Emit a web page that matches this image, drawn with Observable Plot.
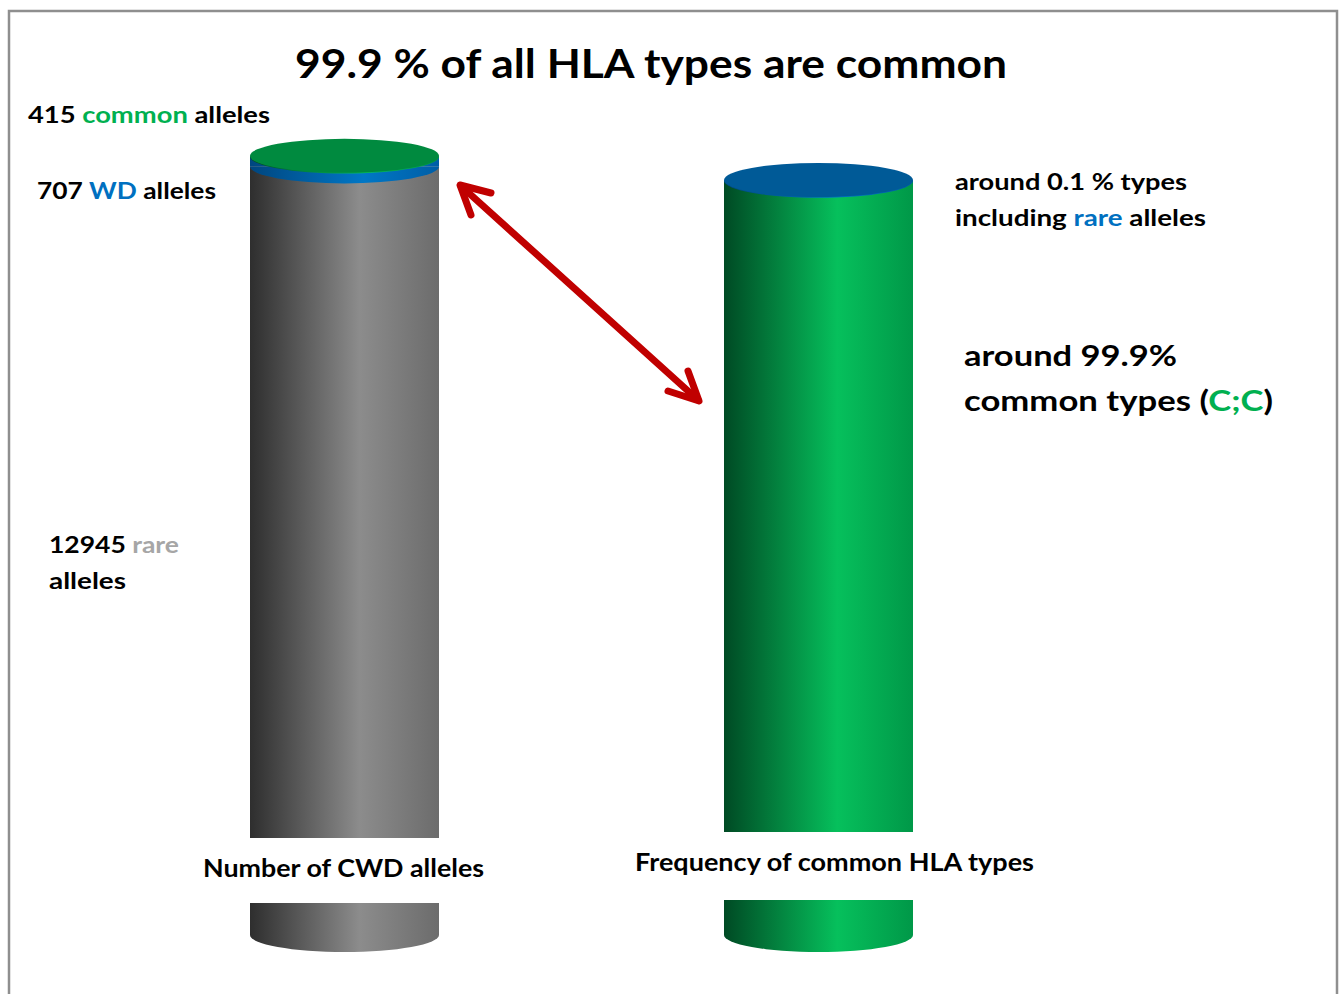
<!DOCTYPE html>
<html>
<head>
<meta charset="utf-8">
<script src="https://cdn.jsdelivr.net/npm/d3@7"></script>
<script src="https://cdn.jsdelivr.net/npm/@observablehq/plot@0.6"></script>
<style>
  html, body { margin: 0; padding: 0; background: #fff; overflow: hidden; }
  #chart svg { display: block; }
</style>
</head>
<body>
<div id="chart"></div>
<script>
// ---------------- data ----------------
const categories = ["Number of CWD alleles", "Frequency of common HLA types"];
// left cylinder (bottom -> top): segment names, drawn heights, allele counts
const leftSegments = ["rare", "WD", "common"];
const leftHeights = [101.8, 1.3, 0.1];
const leftCounts = [12945, 707, 415];
// right cylinder (bottom -> top): frequency in %
const rightSegments = ["common", "rare"];
const rightHeights = [99.9, 0.1];
const titleText = "99.9 % of all HLA types are common";

// ---------------- styles ----------------
const toneOf = {left: {rare: "gray", WD: "blue", common: "green"}, right: {common: "green", rare: "blue"}};
const topColor = {green: "#008a3f", blue: "#005a97", gray: "#6f6f6f"};
const gradients = {
  gray:  [["0", "#2e2e2e"], ["0.58", "#8c8c8c"], ["1", "#6c6c6c"]],
  green: [["0", "#004a24"], ["0.6", "#06c05c"], ["1", "#009848"]],
  blue:  [["0", "#00467f"], ["0.6", "#0077c6"], ["1", "#005ea6"]]
};
const RY = 17;

// build the stacked table
function stack(cat, segs, heights, side) {
  let acc = 0;
  return segs.map((s, i) => {
    const r = {cat, seg: s, y1: acc, y2: acc + heights[i], tone: toneOf[side][s]};
    acc += heights[i];
    return r;
  });
}
const rows = [
  ...stack(categories[0], leftSegments, leftHeights, "left"),
  ...stack(categories[1], rightSegments, rightHeights, "right")
];

// 3D caps: front curves of each segment and the top face of each cylinder
function cylinderCaps(index, scales) {
  const g = d3.create("svg:g");
  const x = scales.x, y = scales.y;
  const bw = x.bandwidth();
  for (const d of rows) {
    const x0 = x(d.cat), x1 = x0 + bw, yb = y(d.y1);
    g.append("path")
      .attr("d", `M${x0},${yb} A${bw / 2},${RY} 0 0 0 ${x1},${yb} Z`)
      .attr("fill", `url(#g-${d.tone})`);
  }
  for (const cat of categories) {
    const segs = rows.filter(r => r.cat === cat);
    const top = segs[segs.length - 1];
    g.append("ellipse")
      .attr("cx", x(cat) + bw / 2)
      .attr("cy", y(top.y2))
      .attr("rx", bw / 2)
      .attr("ry", RY)
      .attr("fill", topColor[top.tone]);
  }
  return g.node();
}

const bandwidth = 189, step = 474;
const plot = Plot.plot({
  width: 1341,
  height: 994,
  margin: 0,
  style: {background: "#fff", overflow: "visible"},
  x: {domain: categories, range: [13, 13 + step * (2 - (1 - bandwidth / step) + 1)], paddingInner: 1 - bandwidth / step, paddingOuter: 0.5, axis: null},
  y: {domain: [0, 100], range: [935, 180], axis: null},
  color: {type: "identity"},
  marks: [
    Plot.barY(rows, {x: "cat", y1: "y1", y2: "y2", fill: d => `url(#g-${d.tone})`}),
    cylinderCaps
  ]
});
document.getElementById("chart").appendChild(plot);

// ---------------- decorations ----------------
const svg = d3.select(plot);
const defs = svg.insert("defs", ":first-child");
for (const [name, stops] of Object.entries(gradients)) {
  const lg = defs.append("linearGradient").attr("id", `g-${name}`).attr("x1", 0).attr("x2", 1).attr("y1", 0).attr("y2", 0);
  for (const [o, c] of stops) lg.append("stop").attr("offset", o).attr("stop-color", c);
}

const xs = plot.scale("x");
const ys = plot.scale("y");
const bw = xs.bandwidth;
const y0px = ys.apply(0);

const anno = svg.append("g")
  .attr("font-family", "Lato, 'Open Sans', sans-serif")
  .attr("font-weight", 700)
  .attr("fill", "#000")
  .attr("text-anchor", "start");

// white label boxes that cut the cylinders, with category labels
const labelBoxes = [
  {cat: categories[0], top: y0px - 97, bottom: y0px - 32, tx: 203, base: 877, w: 281},
  {cat: categories[1], top: y0px - 103, bottom: y0px - 35, tx: 635, base: 871, w: 399}
];
for (const b of labelBoxes) {
  const xl = xs.apply(b.cat);
  anno.append("rect").attr("x", xl - 4).attr("y", b.top).attr("width", bw + 8).attr("height", b.bottom - b.top).attr("fill", "#fff");
  anno.append("text").attr("x", b.tx).attr("y", b.base).attr("font-size", 24)
    .attr("textLength", b.w).attr("lengthAdjust", "spacingAndGlyphs").text(b.cat);
}

const GREEN = "#00b050", BLUE = "#0070c0", GRAY = "#a6a6a6";
function rich(parts, x, y, size, w) {
  const t = anno.append("text").attr("x", x).attr("y", y).attr("font-size", size)
    .attr("textLength", w).attr("lengthAdjust", "spacingAndGlyphs");
  for (const [s, c] of parts) t.append("tspan").attr("fill", c || "#000").text(s);
  return t;
}
rich([[titleText]], 295, 78, 40, 712);
rich([[`${leftCounts[2]} `], ["common", GREEN], [" alleles"]], 28, 123, 23, 242);
rich([[`${leftCounts[1]} `], ["WD", BLUE], [" alleles"]], 37, 199, 23, 179);
rich([[`${leftCounts[0]} `], ["rare", GRAY]], 49, 553, 23, 130);
rich([["alleles"]], 49, 589, 23, 77);
rich([[`around ${rightHeights[1]} % types`]], 955, 190, 23, 232);
rich([["including "], ["rare", BLUE], [" alleles"]], 955, 226, 23, 251);
rich([[`around ${rightHeights[0]}%`]], 964, 366, 29, 213);
rich([["common types ("], ["C;C", GREEN], [")"]], 964, 411, 29, 309);

// double-headed red arrow
const arrow = svg.append("g").attr("fill", "none").attr("stroke", "#c00000").attr("stroke-width", 7)
  .attr("stroke-linecap", "round").attr("stroke-linejoin", "round");
arrow.append("path").attr("d", "M461,186 L698,400");
arrow.append("path").attr("d", "M491,193 L460,185 L471,215");
arrow.append("path").attr("d", "M688,371 L699,401 L668,391");

// outer frame (bottom edge lies outside the window)
svg.append("path").attr("d", "M9,1000 V11 H1337 V1000").attr("fill", "none").attr("stroke", "#8f8f8f").attr("stroke-width", 2.5);
</script>
</body>
</html>
